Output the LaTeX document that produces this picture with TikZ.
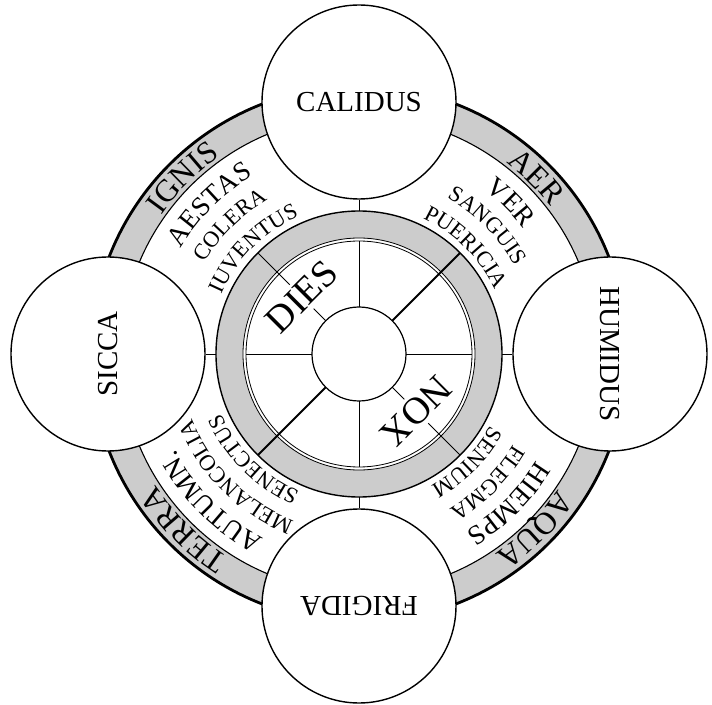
\documentclass[tikz,border=0pt]{standalone}
\usepackage{fontspec}
\setmainfont{Liberation Serif}
\usetikzlibrary{decorations.text}
\definecolor{bandgray}{gray}{0.8}
\newcommand\fSeason{\fontsize{27.5}{30}\selectfont}
\newcommand\fHumor{\fontsize{22.5}{25}\selectfont}
\newcommand\fElem{\fontsize{31.5}{33}\selectfont}
\newcommand\arclabel[4]{%
  \path[decorate,decoration={text along path,text={|#3|#4},text align=center}]
    (#1+45:#2) arc[start angle=#1+45,end angle=#1-45,radius=#2];}
\begin{document}
\begin{tikzpicture}[x=1pt,y=1pt,
  bigcircle/.style={circle,draw,line width=1.4pt,fill=white,minimum size=194pt,inner sep=0pt,font=\fontsize{29}{31}\selectfont},
  daynight/.style={fill=white,inner sep=4pt,font=\fontsize{38}{40}\selectfont},
  thinline/.style={line width=0.8pt},
  thickline/.style={line width=1.8pt}]
\useasboundingbox (-359,-350) rectangle (353,354);
% outer band of the elements
\fill[bandgray,even odd rule] (0,0) circle (268) (0,0) circle (238);
\draw[line width=2.8pt] (0,0) circle (268);
\draw[line width=1.1pt] (0,0) circle (238);
\arclabel{135}{241.5}{\fElem}{IGNIS}
\arclabel{45}{241.5}{\fElem}{AER}
\arclabel{315}{241.5}{\fElem}{AQUA}
\arclabel{225}{241.5}{\fElem}{TERRA}
% inner ring
\fill[bandgray,even odd rule] (0,0) circle (143) (0,0) circle (116);
\draw[line width=1.4pt] (0,0) circle (143);
\draw[thinline] (0,0) circle (116) (0,0) circle (113);
% spokes
\foreach \a in {0,90,180,270} \draw[thinline] (\a:47) -- (\a:113);
\draw[thickline] (225:143) -- (225:47) (45:47) -- (45:143);
\draw[thinline] (135:143) -- (135:47) (315:47) -- (315:143);
\draw[line width=1.2pt,fill=white] (0,0) circle (47);
\node[daynight,rotate=45] (dies) at (135:81) {DIES};
\node[daynight,rotate=225] (nox) at (315:81) {NOX};
% qualities
\node[bigcircle] (calidus) at (0,252) {CALIDUS};
\node[bigcircle,rotate=-90] (humidus) at (251,0) {HUMIDUS};
\node[bigcircle,rotate=180] (frigida) at (0,-252) {FRIGIDA};
\node[bigcircle,rotate=90] (sicca) at (-251,0) {SICCA};
\coordinate (rN) at (90:143);
\coordinate (rE) at (0:143);
\coordinate (rS) at (270:143);
\coordinate (rW) at (180:143);
\draw[thinline] (calidus.south) -- (rN);
\draw[thinline] (humidus.south) -- (rE);
\draw[thinline] (frigida.south) -- (rS);
\draw[thinline] (sicca.south) -- (rW);
% seasons, humours, ages
\arclabel{135}{207}{\fSeason}{AESTAS}
\arclabel{135}{179}{\fHumor}{COLERA}
\arclabel{135}{150}{\fHumor}{IUVENTUS}
\arclabel{45}{207}{\fSeason}{VER}
\arclabel{45}{179}{\fHumor}{SANGUIS}
\arclabel{45}{150}{\fHumor}{PUERICIA}
\arclabel{225}{207}{\fSeason}{AUTUMN.}
\arclabel{225}{179}{\fHumor}{MELANCOLIA}
\arclabel{225}{150}{\fHumor}{SENECTUS}
\arclabel{315}{207}{\fSeason}{HIEMPS}
\arclabel{315}{179}{\fHumor}{FLEGMA}
\arclabel{315}{150}{\fHumor}{SENIUM}
\end{tikzpicture}
\end{document}
